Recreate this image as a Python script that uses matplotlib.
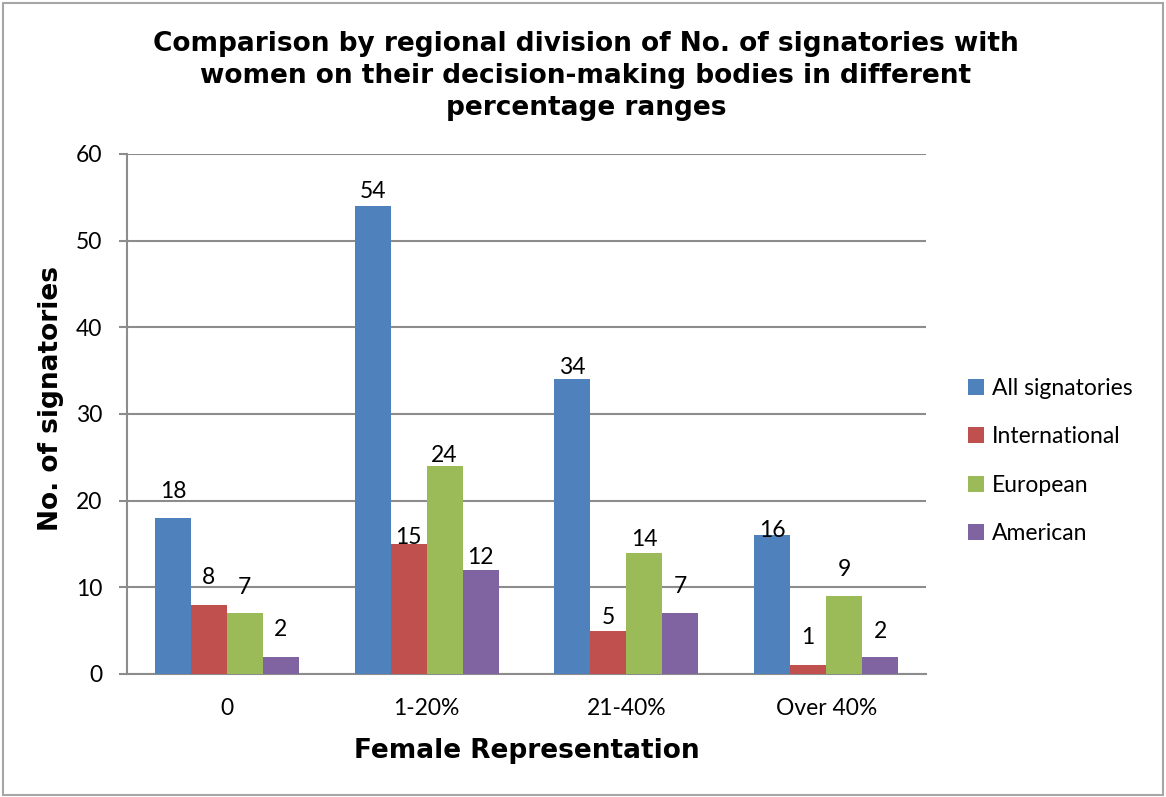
import matplotlib
matplotlib.use("Agg")
import matplotlib.pyplot as plt
from matplotlib.patches import Rectangle

# data
categories = ["0", "1-20%", "21-40%", "Over 40%"]
series = ["All signatories", "International", "European", "American"]
all_sig = [18, 54, 34, 16]
international = [8, 15, 5, 1]
european = [7, 24, 14, 9]
american = [2, 12, 7, 2]
values = [all_sig, international, european, american]
colors = ["#4F81BD", "#C0504D", "#9BBB59", "#8064A2"]

# label offsets above bar tops (pixels), like Excel placed them
label_dy = [
    [26, 15, 12, 5],
    [27, 6, 13, 28],
    [26, 11, 13, 27],
    [27, 12, 27, 25],
]

W, H, DPI = 1166, 797, 100
body_font = "Lato"
body_size = 16.5
grid_col = "#8c8c8c"

fig = plt.figure(figsize=(W / DPI, H / DPI), dpi=DPI)
fig.patch.set_facecolor("white")
fig.patches.append(Rectangle((3 / W, 2 / H), 1 - 6 / W, 1 - 5 / H, transform=fig.transFigure,
                             fill=False, edgecolor="#a6a6a6", linewidth=1.5))

ax = fig.add_axes([127 / W, 1 - 674 / H, (926 - 127) / W, (674 - 154) / H])

bw = 0.18
for j, (name, vals, col) in enumerate(zip(series, values, colors)):
    xs = [i + (j - 1.5) * bw for i in range(len(categories))]
    ax.bar(xs, vals, width=bw, color=col, label=name, zorder=3,
           edgecolor="none")
    for i, (x, v) in enumerate(zip(xs, vals)):
        ax.annotate(str(v), (x, v), xytext=(0, label_dy[j][i] * 72 / DPI),
                    textcoords="offset points", ha="center", va="center",
                    fontsize=body_size, family=body_font, color="black", zorder=4)

ax.set_xlim(-0.5, len(categories) - 0.5)
ax.set_ylim(0, 60)
ax.set_yticks(range(0, 61, 10))
ax.set_xticks(range(len(categories)))
ax.set_xticklabels(categories)
ax.grid(axis="y", color=grid_col, linewidth=1.5, zorder=0)
for s in ["top", "right"]:
    ax.spines[s].set_visible(False)
for s in ["left", "bottom"]:
    ax.spines[s].set_color(grid_col)
    ax.spines[s].set_linewidth(1.5)
ax.tick_params(axis="y", length=8 * 72 / DPI, width=1.5, color=grid_col, pad=12,
               labelsize=body_size)
ax.tick_params(axis="x", length=0, pad=17, labelsize=body_size)
for lab in ax.get_xticklabels() + ax.get_yticklabels():
    lab.set_family(body_font)

ax.set_xlabel("Female Representation", fontsize=19, fontweight="bold",
              family="DejaVu Sans")
ax.set_ylabel("No. of signatories", fontsize=19, fontweight="bold",
              family="DejaVu Sans")
ax.yaxis.set_label_coords(64 / W, 0.5, transform=fig.transFigure)
ax.xaxis.set_label_coords(527 / W, 1 - 738 / H, transform=fig.transFigure)

fig.text(586 / W, 1 - 76 / H,
         "Comparison by regional division of No. of signatories with\n"
         "women on their decision-making bodies in different\n"
         "percentage ranges",
         ha="center", va="center", fontsize=19, fontweight="bold",
         family="DejaVu Sans", linespacing=1.3)

leg = ax.legend(loc="center left", bbox_to_anchor=(947 / W, 1 - 461 / H),
                bbox_transform=fig.transFigure, frameon=False,
                prop={"family": body_font, "size": body_size},
                handlelength=0.7, handleheight=0.7, handletextpad=0.35,
                labelspacing=1.2)

fig.savefig("out.png", dpi=DPI)
